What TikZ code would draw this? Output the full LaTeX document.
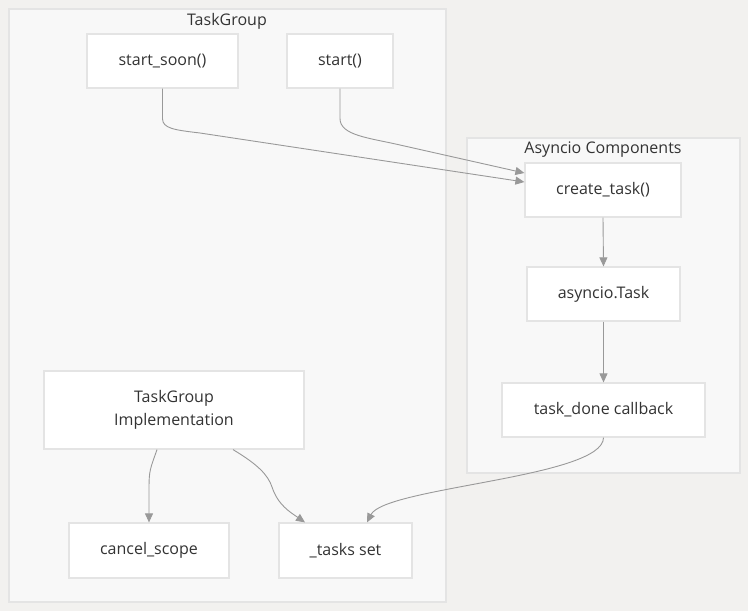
\documentclass[tikz,border=0pt]{standalone}
\usepackage{fontspec}
\setmainfont{Open Sans}
\usetikzlibrary{arrows.meta}
\definecolor{bgc}{HTML}{F2F1EF}
\definecolor{clfill}{HTML}{F8F8F8}
\definecolor{clline}{HTML}{E4E4E4}
\definecolor{edgec}{HTML}{999999}
\definecolor{txt}{HTML}{333333}
\begin{document}
\begin{tikzpicture}[x=1pt,y=-1pt,
  cluster/.style={draw=clline,fill=clfill,line width=1.2pt},
  box/.style={draw=clline,fill=white,line width=1.2pt,text=txt,font=\fontsize{16}{23}\selectfont,align=center,inner sep=0pt},
  ctitle/.style={text=txt,font=\fontsize{16}{19}\selectfont,inner sep=0pt},
  conn/.style={draw=edgec,line width=0.9pt,-{Triangle[length=9pt,width=8pt]}}]
\useasboundingbox[fill=bgc] (0,0) rectangle (748,611);
% clusters
\draw[cluster] (9,9) rectangle (446,602);
\node[ctitle] (tgt) at (227,21) {TaskGroup};
\draw[cluster] (467,138) rectangle (740,473);
\node[ctitle] (act) at (603,150) {Asyncio Components};
% nodes
\node[box,minimum width=151pt,minimum height=54pt] (ss) at (162.5,61) {start\_soon()};
\node[box,minimum width=106pt,minimum height=54pt] (st) at (340,61) {start()};
\node[box,minimum width=156pt,minimum height=54pt] (ct) at (603,190) {create\_task()};
\node[box,minimum width=153pt,minimum height=54pt] (at) at (603.5,294) {asyncio.Task};
\node[box,minimum width=203pt,minimum height=54pt] (td) at (603.5,410) {task\_done callback};
\node[box,minimum width=260pt,minimum height=78pt] (impl) at (174,410) {TaskGroup\\Implementation};
\node[box,minimum width=160pt,minimum height=55pt] (cs) at (149,550.5) {cancel\_scope};
\node[box,minimum width=133pt,minimum height=55pt] (ts) at (345.5,550.5) {\_tasks set};
% edges
\draw[conn] (ss.south) -- ++(0,30) .. controls ++(0,10) and (175,130) .. (200,133) -- ([yshift=8pt]ct.west);
\draw[conn] (st.south) -- ++(0,30) .. controls ++(0,17) and (370,138) .. (400,145) -- ([yshift=17pt]ct.west);
\draw[conn] (ct.south) -- (at.north);
\draw[conn] (at.south) -- (td.north);
\draw[conn] (td.south) .. controls ++(0,40) and (385,487) .. ([xshift=21.5pt]ts.north);
\draw[conn] ([xshift=-17pt]impl.south) .. controls ++(-7,20) and (149,470) .. (149,490) -- (cs.north);
\draw[conn] ([xshift=59pt]impl.south) .. controls ++(25,15) and (268,475) .. (272,487) .. controls (278,505) and (290,512) .. ([xshift=-40.5pt]ts.north);
\end{tikzpicture}
\end{document}
